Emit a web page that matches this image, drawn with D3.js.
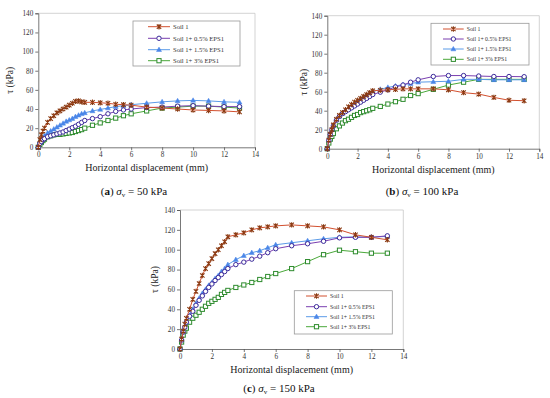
<!DOCTYPE html>
<html>
<head>
<meta charset="utf-8">
<script src="https://cdn.jsdelivr.net/npm/d3@7"></script>
<style>
  body { margin: 0; background: #fff; }
  svg { display: block; font-family: "Liberation Serif", "Times New Roman", serif; }
</style>
</head>
<body>
<svg id="svg1" width="550" height="398"></svg>
<script>
// horizontal displacement (mm), shared by all curves
var disp = [0, 0.1, 0.2, 0.3, 0.4, 0.6, 0.8, 1.0, 1.2, 1.4, 1.6, 1.8, 2.0, 2.2, 2.4, 2.6, 2.8, 3.0,
            3.5, 4, 4.5, 5, 5.5, 6, 7, 8, 9, 10, 11, 12, 13];

var seriesNames = ["Soil 1", "Soil 1+ 0.5% EPS1", "Soil 1+ 1.5% EPS1", "Soil 1+ 3% EPS1"];

// (a) sigma_v = 50 kPa
var soil1A = [0, 8, 13, 17, 20, 26, 30, 33, 36, 38, 40, 42, 44, 46, 48, 48.5, 47.5, 47, 47, 46.5, 46, 45, 44.5, 44, 42, 41, 40, 39, 38.5, 38, 37];
var eps05A = [0, 4, 6, 8, 9, 11, 12, 13, 14, 15, 16, 17.5, 19, 20.5, 22, 24, 26, 28, 30, 32, 35, 37.5, 39, 40, 41.5, 42, 43, 43.5, 43, 42.5, 42.5];
var eps15A = [0, 5, 8, 10, 12, 15, 17, 19, 21, 23, 25, 27, 28.5, 30, 32, 33.5, 35, 36, 38, 39.5, 41, 42.5, 43.5, 44.5, 46, 47.5, 48.5, 49, 48.5, 47.5, 47];
var eps3A  = [0, 3, 5, 7, 8.5, 11, 12, 13, 13.5, 13.5, 14, 14.5, 15, 15.5, 16.5, 17.5, 18.5, 20, 23, 25.5, 28, 30.5, 33, 35, 38, 41, 42, 43, 43, 42, 41];

// (b) sigma_v = 100 kPa
var soil1B = [0, 9, 15, 20, 25, 31, 35, 38, 41, 44, 46.5, 49, 51, 53, 55, 57, 59, 61, 61.5, 62, 62.5, 63, 63, 63, 63, 62, 59, 57.5, 54, 51, 50.5];
var eps05B = [0, 9, 15, 20, 24, 30, 34, 37, 39, 41, 43, 45, 47, 49, 51, 53, 55, 57, 59.5, 62, 65, 67, 70, 72.5, 76, 77, 77, 76.5, 76, 76, 75.8];
var eps15B = [0, 9, 15, 20, 24, 30, 34, 37, 40, 42, 44, 47, 50, 52, 54, 56, 58, 60, 62.5, 64.5, 66, 67.5, 68.5, 70, 70.5, 71, 73, 73, 72.5, 72.5, 72.5];
var eps3B  = [0, 6, 10, 13, 16, 21, 24, 27, 29.5, 31, 33, 35, 36, 38, 39, 40, 41, 42.5, 44.5, 47, 49.5, 52, 56, 58, 62.5, 67, 70, 73, 73, 73, 73];

// (c) sigma_v = 150 kPa
var soil1C = [0, 10, 18, 25, 31, 40, 50, 58, 66, 74, 81, 86, 91, 96, 100, 104, 108, 113, 115, 117, 120, 122, 123, 124, 125, 124, 123, 120, 115, 112.5, 110];
var eps05C = [0, 9, 17, 22, 27, 33, 38, 44, 49, 53.5, 58, 62, 65.5, 69, 72, 75, 78, 81, 85, 87.5, 90.5, 93.5, 97, 101, 104, 106, 108.5, 112, 112.5, 112.5, 114];
var eps15C = [0, 9, 17, 22, 27, 34, 40, 46, 51, 56, 60, 64, 67, 71, 74, 78, 81, 85, 90, 94, 97, 99, 102, 105, 107, 109, 111, 112.5, 113, 112.5, 113.5];
var eps3C  = [0, 7, 14, 18, 21, 27, 31, 34, 37, 40, 43, 46, 48, 50, 52, 55, 57, 59, 62, 64.5, 67, 70, 73, 76, 81, 88, 95, 99.5, 98, 96.5, 96.5];

var xTicks = [0, 2, 4, 6, 8, 10, 12, 14];
var yTicks = [0, 20, 40, 60, 80, 100, 120, 140];

var styles = [
    {line: "#d2502f", mark: "#8b3a12", type: "star"},
    {line: "#7a3fb0", mark: "#3a2a9a", type: "circle"},
    {line: "#5b9be8", mark: "#4a86e8", type: "triangle"},
    {line: "#4aa83a", mark: "#2e8b2e", type: "square"}
];

var panels = [
    {letter: "a", load: "50", data: [soil1A, eps05A, eps15A, eps3A],
     left: 38.3, right: 255, top: 13.3, bottom: 147.3, ytx: 13, capX: 134, capY: 195,
     leg: {x: 133, y: 21, w: 107, h: 45, fs: 6.6, rows: [26.7, 38.3, 49.7, 60.7], lx: 148, tx: 173}},
    {letter: "b", load: "100", data: [soil1B, eps05B, eps15B, eps3B],
     left: 327.3, right: 539.3, top: 15.7, bottom: 148.7, ytx: 307, capX: 422, capY: 195,
     leg: {x: 431, y: 23.3, w: 98, h: 41.7, fs: 5.8, rows: [29, 39, 49, 59.3], lx: 443, tx: 466.7}},
    {letter: "c", load: "150", data: [soil1C, eps05C, eps15C, eps3C],
     left: 180, right: 403.3, top: 210, bottom: 349, ytx: 158, capX: 279, capY: 392,
     leg: {x: 294.3, y: 290.7, w: 98, h: 43.3, fs: 5.8, rows: [296, 306.7, 316.7, 326.7], lx: 306, tx: 330}}
];

var svg = d3.select("#svg1");

function drawMarker(g, type, x, y, col) {
    if (type == "star") {
        var s = 2.2;
        g.append("path")
            .attr("d", "M" + (x - s) + "," + (y - s) + "L" + (x + s) + "," + (y + s) +
                       "M" + (x - s) + "," + (y + s) + "L" + (x + s) + "," + (y - s) +
                       "M" + x + "," + (y - s - 0.5) + "L" + x + "," + (y + s + 0.5))
            .style("stroke", col).style("stroke-width", 1.1).style("fill", "none");
    } else if (type == "circle") {
        g.append("circle").attr("cx", x).attr("cy", y).attr("r", 2.2)
            .style("fill", "#fff").style("stroke", col).style("stroke-width", 1);
    } else if (type == "triangle") {
        g.append("path")
            .attr("d", "M" + x + "," + (y - 2.6) + "L" + (x + 2.5) + "," + (y + 1.8) + "L" + (x - 2.5) + "," + (y + 1.8) + "Z")
            .style("fill", col).style("stroke", col).style("stroke-width", 0.5);
    } else {
        g.append("rect").attr("x", x - 2.1).attr("y", y - 2.1).attr("width", 4.2).attr("height", 4.2)
            .style("fill", "#fff").style("stroke", col).style("stroke-width", 1);
    }
}

panels.forEach(function(p) {
    var g = svg.append("g");

    var x = d3.scaleLinear().domain([0, 14]).range([p.left, p.right]);
    var y = d3.scaleLinear().domain([0, 140]).range([p.bottom, p.top]);

    // light frame on top and right
    g.append("path")
        .attr("d", "M" + p.left + "," + p.top + "H" + p.right + "V" + p.bottom)
        .style("stroke", "#c8c8c8").style("fill", "none").style("stroke-width", 0.8);

    var xAxis = g.append("g")
        .attr("transform", "translate(0," + p.bottom + ")")
        .call(d3.axisBottom(x).tickValues(xTicks).tickSize(3).tickPadding(2));
    var yAxis = g.append("g")
        .attr("transform", "translate(" + p.left + ",0)")
        .call(d3.axisLeft(y).tickValues(yTicks).tickSize(3).tickPadding(2));

    [xAxis, yAxis].forEach(function(a) {
        a.selectAll("path, line").style("stroke", "#555").style("stroke-width", 0.8);
        a.selectAll("text").style("font-family", "Liberation Serif").style("font-size", "7.2px").style("fill", "#333");
    });

    // axis titles
    g.append("text")
        .attr("x", (p.left + p.right) / 2).attr("y", p.bottom + 24)
        .attr("text-anchor", "middle")
        .style("font-size", "10px").style("fill", "#222")
        .text("Horizontal displacement (mm)");
    g.append("text")
        .attr("transform", "translate(" + p.ytx + "," + ((p.top + p.bottom) / 2) + ") rotate(-90)")
        .attr("text-anchor", "middle")
        .style("font-size", "9.5px").style("fill", "#222")
        .text("τ (kPa)");

    // curves
    var line = d3.line()
        .x(function(d){ return x(d[0]); })
        .y(function(d){ return y(d[1]); });

    [3, 2, 1, 0].forEach(function(k) {
        var pts = disp.map(function(d, i){ return [d, p.data[k][i]]; });
        g.append("path").datum(pts)
            .attr("d", line)
            .style("fill", "none").style("stroke", styles[k].line).style("stroke-width", 1);
        pts.forEach(function(d) {
            drawMarker(g, styles[k].type, x(d[0]), y(d[1]), styles[k].mark);
        });
    });

    // legend
    var L = p.leg;
    g.append("rect").attr("x", L.x).attr("y", L.y).attr("width", L.w).attr("height", L.h)
        .style("fill", "#fff").style("stroke", "#999").style("stroke-width", 0.8);
    seriesNames.forEach(function(name, k) {
        var ry = L.rows[k];
        g.append("line").attr("x1", L.lx).attr("x2", L.tx - 3).attr("y1", ry).attr("y2", ry)
            .style("stroke", styles[k].line).style("stroke-width", 1);
        drawMarker(g, styles[k].type, (L.lx + L.tx - 3) / 2, ry, styles[k].mark);
        g.append("text").attr("x", L.tx).attr("y", ry).attr("dy", "0.35em")
            .style("font-size", L.fs + "px").style("fill", "#333")
            .text(name);
    });

    // caption
    var cap = svg.append("text")
        .attr("x", p.capX).attr("y", p.capY)
        .attr("text-anchor", "middle")
        .style("font-size", "11px").style("fill", "#111");
    cap.append("tspan").text("(");
    cap.append("tspan").style("font-weight", "bold").text(p.letter);
    cap.append("tspan").text(") ");
    cap.append("tspan").style("font-style", "italic").text("σ");
    cap.append("tspan").attr("dy", 1.5).style("font-size", "7px").text("v");
    cap.append("tspan").attr("dy", -1.5).text(" = " + p.load + " kPa");
});
</script>
</body>
</html>
